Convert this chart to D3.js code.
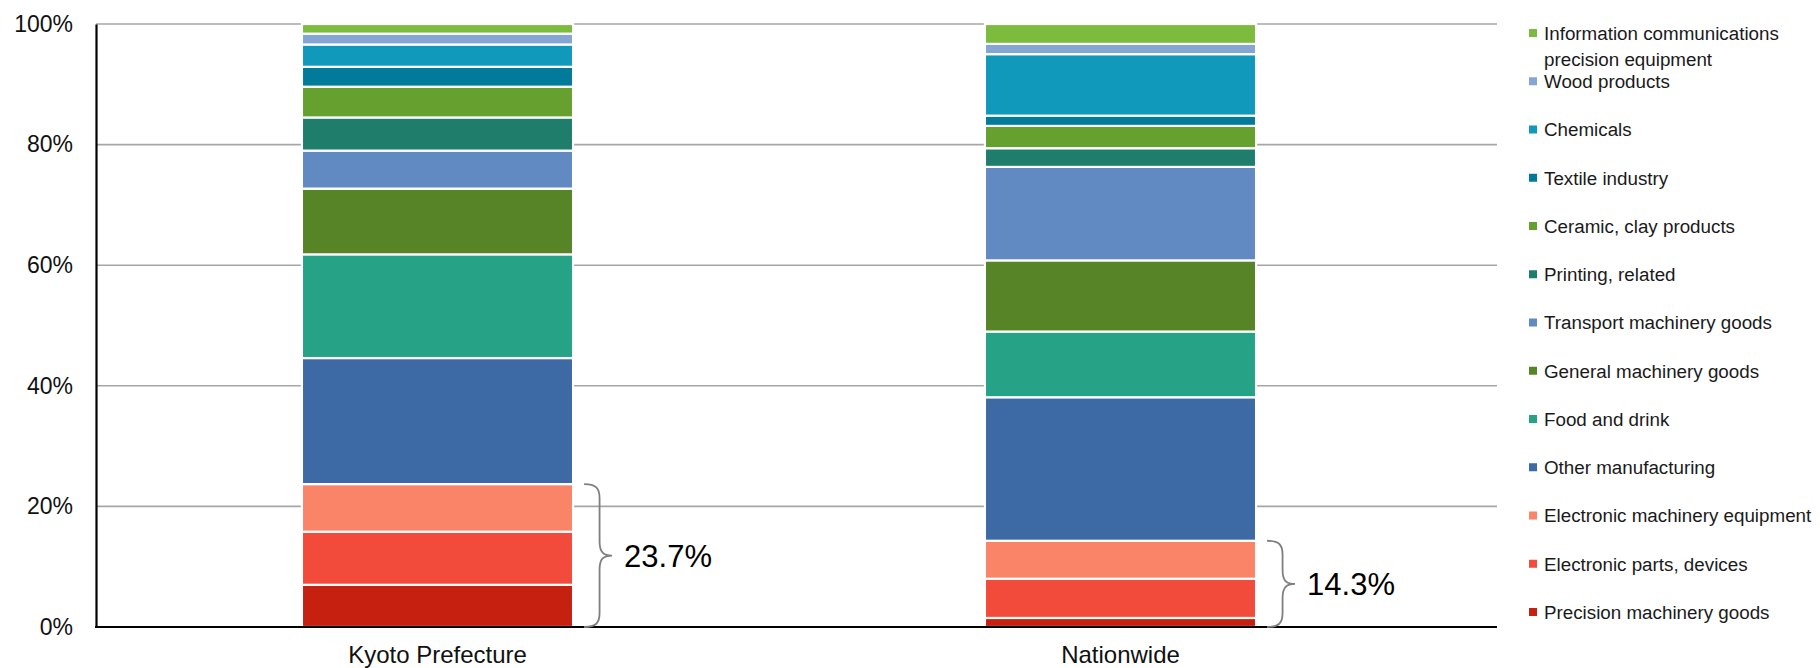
<!DOCTYPE html>
<html>
<head>
<meta charset="utf-8">
<script src="https://cdn.jsdelivr.net/npm/d3@7"></script>
<style>
  html, body { margin: 0; padding: 0; background: #fff; }
  svg { display: block; font-family: "Liberation Sans", Arial, sans-serif; }
</style>
</head>
<body>
<svg id="chart" width="1820" height="668"></svg>
<script>
// Share of manufacturing output by industry (%), listed from the bottom of each stack upward
const categories = ["Kyoto Prefecture", "Nationwide"];
const industries = [
  "Precision machinery goods",
  "Electronic parts, devices",
  "Electronic machinery equipment",
  "Other manufacturing",
  "Food and drink",
  "General machinery goods",
  "Transport machinery goods",
  "Printing, related",
  "Ceramic, clay products",
  "Textile industry",
  "Chemicals",
  "Wood products",
  "Information communications precision equipment"
];
const kyotoShares      = [7.0, 8.8, 7.9, 20.9, 17.2, 10.9, 6.3, 5.5, 5.1, 3.3, 3.7, 1.8, 1.6];
const nationwideShares = [1.5, 6.5, 6.3, 23.8, 10.9, 11.8, 15.5, 3.1, 3.7, 1.7, 10.2, 1.7, 3.3];
const industryColors = [
  "#c62010", "#f24b3b", "#fa8468", "#3d69a5", "#26a387", "#568427",
  "#618ac3", "#1f7e6b", "#66a02e", "#027b9a", "#1199bc", "#85a6d2", "#7dbb3f"
];
// The three electronics-related industries grouped by the brace
const bracedIndustries = [0, 1, 2];
const yTicks = [0, 20, 40, 60, 80, 100];

const svg = d3.select("#chart");
const plot = { left: 96, right: 1497, top: 24, bottom: 627 };
const barsRight = 1462;

const rows = categories.map((c, ci) => {
  const row = { category: c };
  const values = ci === 0 ? kyotoShares : nationwideShares;
  industries.forEach((name, i) => { row[name] = values[i]; });
  return row;
});

const x = d3.scaleBand()
  .domain(categories)
  .range([plot.left, barsRight])
  .paddingInner(0.603)
  .paddingOuter(0.3015);

const y = d3.scaleLinear().domain([0, 100]).range([plot.bottom, plot.top]);

const color = d3.scaleOrdinal().domain(industries).range(industryColors);

// Horizontal gridlines
svg.append("g")
  .selectAll("line")
  .data(yTicks.filter(d => d > 0))
  .join("line")
  .attr("x1", plot.left).attr("x2", plot.right)
  .attr("y1", d => y(d)).attr("y2", d => y(d))
  .attr("stroke", "#a6a6a6")
  .attr("stroke-width", 1.6);

// Stacked bars
const series = d3.stack().keys(industries)(rows);
svg.append("g")
  .selectAll("g")
  .data(series)
  .join("g")
  .attr("fill", d => color(d.key))
  .selectAll("rect")
  .data(d => d)
  .join("rect")
  .attr("x", d => x(d.data.category))
  .attr("width", x.bandwidth())
  .attr("y", d => y(d[1]))
  .attr("height", d => y(d[0]) - y(d[1]))
  .attr("stroke", "#fff")
  .attr("stroke-width", 2.2);

// Y axis
const yAxis = svg.append("g")
  .attr("transform", `translate(${plot.left},0)`)
  .call(d3.axisLeft(y).tickValues(yTicks).tickFormat(d => d + "%").tickSize(0).tickSizeOuter(0).tickPadding(23));
yAxis.select(".domain").attr("stroke", "#000").attr("stroke-width", 2.2);
yAxis.selectAll("text").attr("font-size", 23).attr("fill", "#111").attr("font-family", "Liberation Sans, Arial, sans-serif");

// X axis (baseline runs the full plot width)
const xAxis = svg.append("g")
  .attr("transform", `translate(0,${plot.bottom})`)
  .call(d3.axisBottom(x).tickSize(0).tickSizeOuter(0).tickPadding(19));
xAxis.select(".domain").remove();
xAxis.insert("line", ":first-child")
  .attr("x1", plot.left - 1).attr("x2", plot.right)
  .attr("stroke", "#000").attr("stroke-width", 2.2);
xAxis.selectAll("text").attr("font-size", 24).attr("fill", "#111").attr("font-family", "Liberation Sans, Arial, sans-serif");

// Curly braces summing the electronics-related shares
function bracePath(x0, top, bottom) {
  const xs = x0 + 15.5, xt = x0 + 28, r = 14;
  const mid = (top + bottom) / 2;
  return `M${x0},${top}` +
    `C${x0 + 12},${top} ${xs},${top + 4} ${xs},${top + r}` +
    `L${xs},${mid - r}` +
    `C${xs},${mid - 3} ${xs + 4},${mid} ${xt},${mid}` +
    `C${xs + 4},${mid} ${xs},${mid + 3} ${xs},${mid + r}` +
    `L${xs},${bottom - r}` +
    `C${xs},${bottom - 4} ${x0 + 12},${bottom} ${x0},${bottom}`;
}

rows.forEach((row, ci) => {
  const values = ci === 0 ? kyotoShares : nationwideShares;
  const total = d3.sum(bracedIndustries, i => values[i]);
  const x0 = x(row.category) + x.bandwidth() + 11;
  const top = y(total), bottom = y(0);
  svg.append("path")
    .attr("d", bracePath(x0, top, bottom))
    .attr("fill", "none")
    .attr("stroke", "#7f7f7f")
    .attr("stroke-width", 1.8);
  svg.append("text")
    .attr("x", x0 + 40)
    .attr("y", (top + bottom) / 2)
    .attr("dy", "0.36em")
    .attr("font-size", 31)
    .attr("fill", "#000")
    .text(d3.format(".1f")(total) + "%");
});

// Legend, top item first
const legendItems = industries.map((name, i) => ({ name, i })).reverse();
const legend = svg.append("g");
legendItems.forEach((d, k) => {
  const cy = 33 + k * 48.25;
  legend.append("rect")
    .attr("x", 1529).attr("y", cy - 4)
    .attr("width", 8).attr("height", 8)
    .attr("fill", color(d.name));
  const t = legend.append("text")
    .attr("x", 1544).attr("y", cy)
    .attr("dy", "0.36em")
    .attr("font-size", 18.8)
    .attr("fill", "#1a1a1a");
  if (d.name === "Information communications precision equipment") {
    t.append("tspan").attr("x", 1544).text("Information communications");
    t.append("tspan").attr("x", 1544).attr("dy", 26).text("precision equipment");
  } else {
    t.text(d.name);
  }
});
</script>
</body>
</html>
